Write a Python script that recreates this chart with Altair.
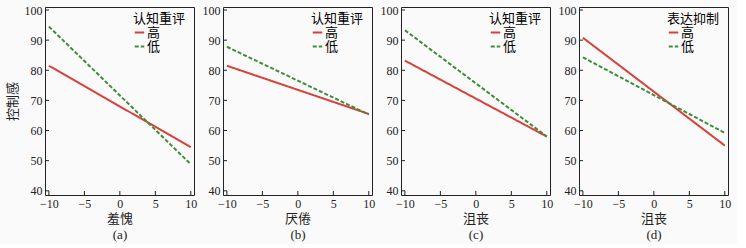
import altair as alt
import pandas as pd

# ---- data ----
x_ends = [-10, 10]
panel_ids = ["a", "b", "c", "d"]
x_titles = ["羞愧", "厌倦", "沮丧", "沮丧"]
legend_titles = ["认知重评", "认知重评", "认知重评", "表达抑制"]
groups = ["高", "低"]
high_a = [81.5, 54.5]
low_a = [94.5, 48.8]
high_b = [81.5, 65.5]
low_b = [87.8, 65.3]
high_c = [83.2, 58.0]
low_c = [93.3, 58.0]
high_d = [90.8, 55.0]
low_d = [84.3, 59.2]
highs = [high_a, high_b, high_c, high_d]
lows = [low_a, low_b, low_c, low_d]
x_tick_values = [-10, -5, 0, 5, 10]
y_tick_values = [40, 50, 60, 70, 80, 90, 100]
y_title = "控制感"

RED = "#d9403b"
GREEN = "#3f8d3a"
FONT = "Liberation Serif, Times New Roman, serif, Noto Sans CJK SC"
W, H = 149, 188
X_DOMAIN = [-10.55, 10.45]
Y_DOMAIN = [38.6, 101]


def make_legend(title):
    return alt.Legend(title=title, orient="none", legendX=88, legendY=6, padding=0,
                      symbolType="stroke", symbolSize=90, symbolStrokeWidth=2,
                      labelOffset=1, rowPadding=-3, titlePadding=0,
                      labelFontSize=13, titleFontSize=13, titleFontWeight="normal",
                      labelFont=FONT, titleFont=FONT)


panels = []
for i, pid in enumerate(panel_ids):
    rows = []
    for g, vals in zip(groups, [highs[i], lows[i]]):
        for xv, yv in zip(x_ends, vals):
            rows.append({"x": xv, "y": yv, "g": g})
    df = pd.DataFrame(rows)

    x_axis = alt.Axis(values=x_tick_values, ticks=False, domain=False, grid=False,
                      labelPadding=3, title=[x_titles[i], f"({pid})"],
                      titlePadding=2, titleLineHeight=16, labelFlush=False,
                      labelOverlap=False, labelFont=FONT, titleFont=FONT,
                      labelFontSize=12, titleFontSize=13, titleFontWeight="normal",
                      minExtent=15, maxExtent=15)
    y_axis = alt.Axis(values=y_tick_values, ticks=False, domain=False, grid=False,
                      labelPadding=3, titlePadding=5, labelFlush=False,
                      labelOverlap=False, labelFont=FONT, titleFont=FONT,
                      labelFontSize=12, titleFontSize=13, titleFontWeight="normal",
                      minExtent=21, maxExtent=21,
                      title=y_title if i == 0 else None)
    xscale = alt.Scale(domain=X_DOMAIN, nice=False, zero=False)
    yscale = alt.Scale(domain=Y_DOMAIN, nice=False, zero=False)

    lines = alt.Chart(df).mark_line(strokeWidth=2).encode(
        x=alt.X("x:Q", scale=xscale, axis=x_axis),
        y=alt.Y("y:Q", scale=yscale, axis=y_axis),
        color=alt.Color("g:N", scale=alt.Scale(domain=groups, range=[RED, GREEN]),
                        legend=make_legend(legend_titles[i])),
        strokeDash=alt.StrokeDash("g:N", scale=alt.Scale(domain=groups, range=[[1, 0], [4, 2]]),
                                  legend=make_legend(legend_titles[i])),
    )

    xt = alt.Chart(pd.DataFrame({"x": x_tick_values})).mark_rule(color="#222", strokeWidth=1).encode(
        x=alt.X("x:Q", scale=xscale, axis=x_axis), y=alt.value(H), y2=alt.value(H - 4))
    yt = alt.Chart(pd.DataFrame({"y": y_tick_values})).mark_rule(color="#222", strokeWidth=1).encode(
        y=alt.Y("y:Q", scale=yscale, axis=y_axis), x=alt.value(0), x2=alt.value(4))

    panel = alt.layer(lines, xt, yt).properties(width=W, height=H)
    panels.append(panel)

chart = alt.hconcat(*panels, spacing=29, bounds="flush").resolve_scale(
    color="independent", strokeDash="independent"
).resolve_legend(color="independent", strokeDash="independent").properties(
    padding={"left": 5, "top": 3, "right": 5, "bottom": 2},
    background="#fafafa",
).configure_view(stroke="#222", strokeWidth=1).configure_axis(
    labelColor="#222", titleColor="#222",
)

chart.save("out.html", embed_options={"renderer": "svg", "actions": False})
